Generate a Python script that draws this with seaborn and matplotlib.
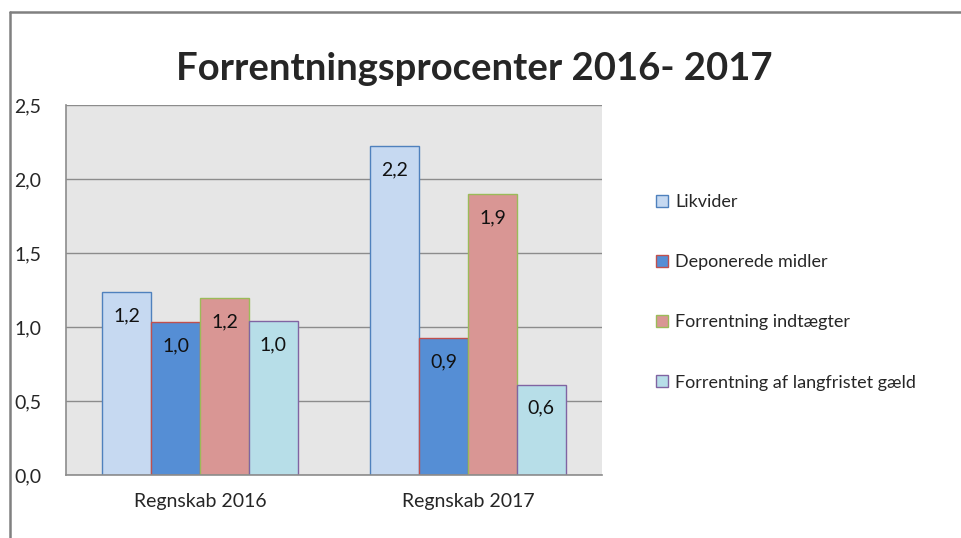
import seaborn as sns
import matplotlib.pyplot as plt
import pandas as pd
from matplotlib.patches import Patch
from matplotlib.lines import Line2D

# data
regnskab = ["Regnskab 2016", "Regnskab 2017"]
serier = ["Likvider", "Deponerede midler", "Forrentning indtægter",
          "Forrentning af langfristet gæld"]
likvider = [1.234, 2.223]
deponerede = [1.032, 0.926]
indtaegter = [1.196, 1.899]
langfristet = [1.04, 0.61]
yticks = [0.0, 0.5, 1.0, 1.5, 2.0, 2.5]

rows = []
for navn, vals in zip(serier, [likvider, deponerede, indtaegter, langfristet]):
    for r, v in zip(regnskab, vals):
        rows.append({"regnskab": r, "serie": navn, "value": v})
df = pd.DataFrame(rows)

fills = ["#c6d9f1", "#558ed5", "#d99694", "#b7dee8"]
edges = ["#4f81bd", "#c0504d", "#9bbb59", "#8064a2"]

sns.set_style("white")
plt.rcParams["font.family"] = ["Lato", "DejaVu Sans"]

fig = plt.figure(figsize=(9.61, 5.38), dpi=100)
ax = fig.add_axes([66 / 961, 1 - 475 / 538, 536 / 961, 370 / 538])

sns.barplot(data=df, x="regnskab", y="value", hue="serie", hue_order=serier,
            palette=fills, width=0.73, saturation=1, ax=ax, legend=False)

for cont, ec in zip(ax.containers, edges):
    for p in cont.patches:
        p.set_edgecolor(ec)
        p.set_linewidth(1.0)
    ax.bar_label(cont, labels=[f"{p.get_height():.1f}".replace(".", ",") for p in cont.patches],
                 padding=-23, fontsize=14, color="#111111")

ax.set_facecolor("#e6e6e6")
ax.set_ylim(0, 2.5)
ax.set_xlim(-0.5, 1.5)
ax.set_yticks(yticks)
ax.set_yticklabels([f"{t:.1f}".replace(".", ",") for t in yticks], fontsize=14, ha="left")
ax.tick_params(axis="y", pad=37, length=0)
ax.tick_params(axis="x", labelsize=14, length=0, pad=13)
ax.set_xlabel("")
ax.set_ylabel("")
ax.grid(axis="y", color="#8c8c8c", linewidth=1.0)
ax.set_axisbelow(True)
for s in ["top", "right"]:
    ax.spines[s].set_visible(False)
for s in ["left", "bottom"]:
    ax.spines[s].set_color("#8c8c8c")
    ax.spines[s].set_linewidth(1.2)

fig.text(474 / 961, 1 - 69 / 538, "Forrentningsprocenter 2016- 2017",
         ha="center", va="center", fontsize=27.5, fontweight="bold")

handles = [Patch(facecolor=f, edgecolor=e) for f, e in zip(fills, edges)]
fig.legend(handles, serier, loc="upper left", bbox_to_anchor=(656 / 961, 1 - 194 / 538),
           frameon=False, fontsize=13, handlelength=0.65, handleheight=0.65,
           handletextpad=0.4, labelspacing=2.45, borderpad=0, borderaxespad=0)

# outer chart frame
fig.add_artist(Line2D([10 / 961, 1], [1 - 12 / 538, 1 - 12 / 538], color="#808080", linewidth=1.8))
fig.add_artist(Line2D([10 / 961, 10 / 961], [0, 1 - 12 / 538], color="#808080", linewidth=1.8))

fig.savefig("out.png", dpi=100)
